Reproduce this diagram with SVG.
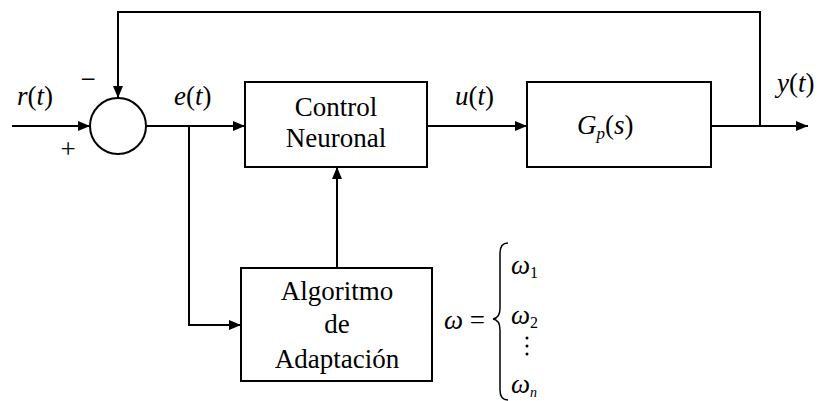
<svg xmlns="http://www.w3.org/2000/svg" width="823" height="401" viewBox="0 0 823 401" font-family="'Liberation Serif', 'Times New Roman', Times, 'DejaVu Serif', 'Noto Serif', serif">
  <style>
    .blk { fill: #fff; stroke: #000; stroke-width: 2; }
    .ln { fill: none; stroke: #000; stroke-width: 2; }
    text { font-family: 'Liberation Serif', 'Times New Roman', Times, 'DejaVu Serif', serif; }
    .lbl { font-size: 27px; fill: #000; text-anchor: middle; }
    .math { font-size: 27px; font-style: italic; fill: #000; }
    .up { font-style: normal; }
  </style>
  <defs>
    <marker id="arr" viewBox="0 0 12 10" refX="12" refY="5" markerWidth="12" markerHeight="10" markerUnits="userSpaceOnUse" orient="auto">
      <path d="M0,0 L12,5 L0,10 Z" fill="#000"/>
    </marker>
  </defs>

  <g id="connectors">
    <path class="ln" d="M12,126 L90,126" marker-end="url(#arr)"/>
    <path class="ln" d="M146,126 L245,126" marker-end="url(#arr)"/>
    <path class="ln" d="M427,126 L527,126" marker-end="url(#arr)"/>
    <path class="ln" d="M711,126 L808,126" marker-end="url(#arr)"/>
    <path class="ln" d="M760,126 L760,12 L118,12 L118,98" marker-end="url(#arr)"/>
    <path class="ln" d="M189,126 L189,325 L241,325" marker-end="url(#arr)"/>
    <path class="ln" d="M337,268 L337,167" marker-end="url(#arr)"/>
  </g>

  <g id="sum">
    <circle cx="118" cy="126" r="28" fill="#fff" stroke="#000" stroke-width="2"/>
    <text class="lbl" x="88" y="88">−</text>
    <text class="lbl" x="68" y="158">+</text>
  </g>

  <g id="control">
    <rect class="blk" x="245" y="82" width="182" height="85"/>
    <text class="lbl" x="336" y="116">Control</text>
    <text class="lbl" x="336" y="147">Neuronal</text>
  </g>

  <g id="plant">
    <rect class="blk" x="527" y="82" width="184" height="85"/>
    <text class="math" x="577" y="134">G<tspan font-size="17" dy="5">p</tspan><tspan class="up" dy="-5">(</tspan>s<tspan class="up">)</tspan></text>
  </g>

  <g id="adapt">
    <rect class="blk" x="241" y="268" width="191" height="113"/>
    <text class="lbl" x="337" y="300">Algoritmo</text>
    <text class="lbl" x="337" y="333">de</text>
    <text class="lbl" x="337" y="368">Adaptación</text>
  </g>

  <g id="signals">
    <text class="math" x="17" y="105">r<tspan class="up">(</tspan>t<tspan class="up">)</tspan></text>
    <text class="math" x="174" y="105">e<tspan class="up">(</tspan>t<tspan class="up">)</tspan></text>
    <text class="math" x="455" y="105">u<tspan class="up">(</tspan>t<tspan class="up">)</tspan></text>
    <text class="math" x="777" y="92">y<tspan class="up">(</tspan>t<tspan class="up">)</tspan></text>
  </g>

  <g id="weights">
    <text class="math" x="444" y="329">ω <tspan class="up">=</tspan></text>
    <path d="M508,243 Q500,243 500,253 L500,308 Q500,318 493,319 Q500,320 500,330 L500,390 Q500,400 508,400" fill="none" stroke="#000" stroke-width="1.5"/>
    <text class="math" x="511" y="274">ω<tspan font-size="16" dy="4" class="up">1</tspan></text>
    <text class="math" x="511" y="324">ω<tspan font-size="16" dy="4" class="up">2</tspan></text>
    <circle cx="527" cy="338" r="1.5"/>
    <circle cx="527" cy="346" r="1.5"/>
    <circle cx="527" cy="354" r="1.5"/>
    <text class="math" x="511" y="393">ω<tspan font-size="14" dy="4">n</tspan></text>
  </g>
</svg>
